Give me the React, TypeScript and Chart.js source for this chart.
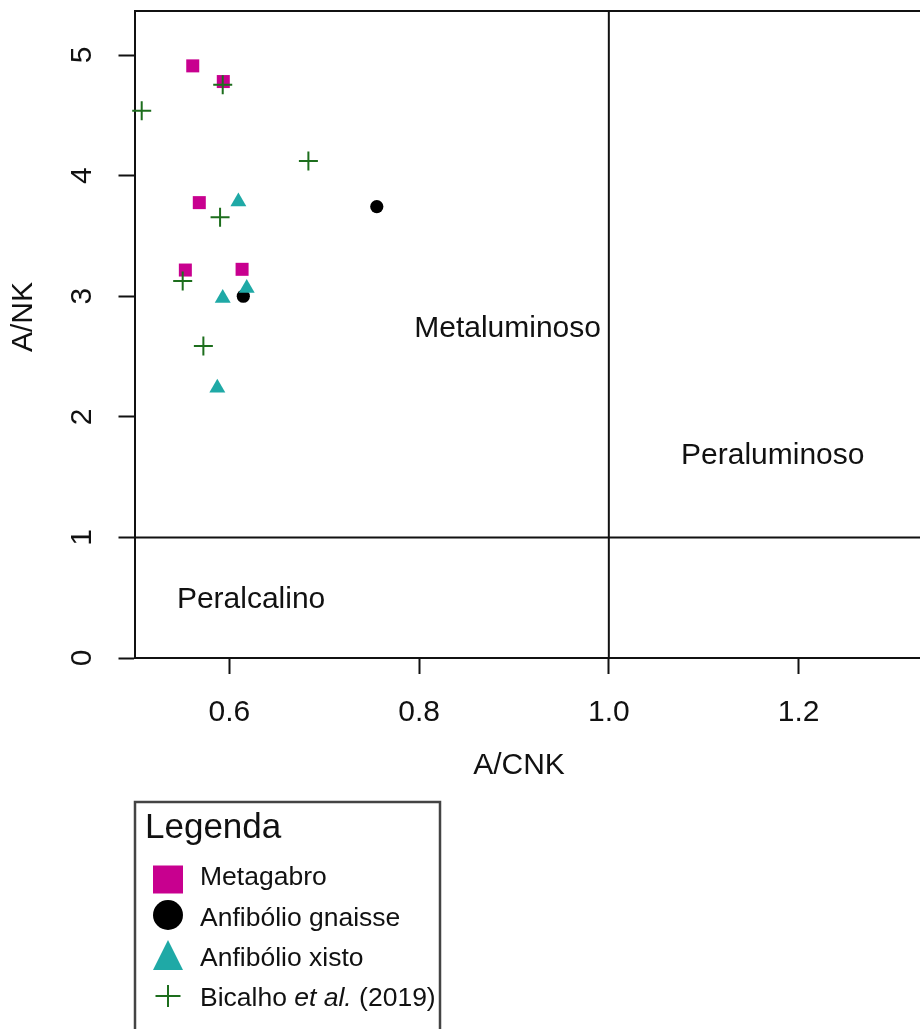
import { useEffect, useRef } from 'react';
import { Chart, registerables } from 'chart.js';

Chart.register(...registerables);

const FONT = '"Liberation Sans", Arial, Helvetica, sans-serif';
const INK = '#111111';

// Axis limits and ticks (Shand diagram: A/CNK vs A/NK)
const X_MIN = 0.5;
const X_MAX = 1.328;
const Y_MIN = 0;
const Y_MAX = 5.365;
const X_TICKS = [0.6, 0.8, 1.0, 1.2];
const Y_TICKS = [0, 1, 2, 3, 4, 5];

// Field boundaries
const BOUNDARY_ACNK = 1.0;
const BOUNDARY_ANK = 1.0;

// Samples
const metagabroACNK = [0.5614, 0.5936, 0.5683, 0.5536, 0.6134];
const metagabroANK = [4.91, 4.78, 3.776, 3.217, 3.223];

const gnaisseACNK = [0.7554, 0.6147];
const gnaisseANK = [3.743, 3.0];

const xistoACNK = [0.6095, 0.593, 0.6183, 0.5873];
const xistoANK = [3.784, 2.983, 3.066, 2.24];

const bicalhoACNK = [0.593, 0.5076, 0.6833, 0.5902, 0.5508, 0.5726];
const bicalhoANK = [4.753, 4.537, 4.122, 3.655, 3.126, 2.587];

// Field names and where they sit (in data units)
const fieldNames = ['Metaluminoso', 'Peraluminoso', 'Peralcalino'];
const fieldACNK = [0.8933, 1.1728, 0.6229];
const fieldANK = [2.727, 1.68, 0.48];

const X_TITLE = 'A/CNK';
const Y_TITLE = 'A/NK';
const LEGEND_TITLE = 'Legenda';
const seriesLabels = ['Metagabro', 'Anfibólio gnaisse', 'Anfibólio xisto', 'Bicalho et al. (2019)'];

const MAGENTA = '#c8008f';
const BLACK = '#000000';
const TEAL = '#1fa9a6';
const GREEN = '#1d6e1d';

const pts = (xs: number[], ys: number[]) => xs.map((x, i) => ({ x, y: ys[i] }));

const noPadding = (s: any) => {
  s.paddingTop = 0;
  s.paddingBottom = 0;
  s.paddingLeft = 0;
  s.paddingRight = 0;
};

const textPlugin = {
  id: 'shandText',
  afterDraw(chart: any) {
    const { ctx, scales } = chart;
    const xs = scales.x;
    const ys = scales.y;
    ctx.save();
    ctx.fillStyle = INK;

    // field names
    ctx.font = `30px ${FONT}`;
    ctx.textAlign = 'center';
    ctx.textBaseline = 'middle';
    fieldNames.forEach((name, i) => {
      ctx.fillText(name, xs.getPixelForValue(fieldACNK[i]), ys.getPixelForValue(fieldANK[i]));
    });

    // axis titles
    ctx.fillText(X_TITLE, 519, 766);
    ctx.save();
    ctx.translate(24, 317);
    ctx.rotate(-Math.PI / 2);
    ctx.fillText(Y_TITLE, 0, 0);
    ctx.restore();

    // legend box
    ctx.strokeStyle = '#444';
    ctx.lineWidth = 2.5;
    ctx.strokeRect(135, 802, 305, 260);

    ctx.textAlign = 'left';
    ctx.textBaseline = 'alphabetic';
    ctx.font = `35px ${FONT}`;
    ctx.fillText(LEGEND_TITLE, 145, 838);

    const mx = 168;
    const tx = 200;
    const baselines = [885, 926, 966, 1006];
    const centers = [879.5, 915, 956, 996];

    // square
    ctx.fillStyle = MAGENTA;
    ctx.fillRect(mx - 15, centers[0] - 14, 30, 28);
    // circle
    ctx.fillStyle = BLACK;
    ctx.beginPath();
    ctx.arc(mx, centers[1], 15, 0, Math.PI * 2);
    ctx.fill();
    // triangle
    ctx.fillStyle = TEAL;
    ctx.beginPath();
    ctx.moveTo(mx, centers[2] - 16);
    ctx.lineTo(mx + 15, centers[2] + 14);
    ctx.lineTo(mx - 15, centers[2] + 14);
    ctx.closePath();
    ctx.fill();
    // cross
    ctx.strokeStyle = GREEN;
    ctx.lineWidth = 2;
    ctx.beginPath();
    ctx.moveTo(mx - 12.5, centers[3]);
    ctx.lineTo(mx + 12.5, centers[3]);
    ctx.moveTo(mx, centers[3] - 11);
    ctx.lineTo(mx, centers[3] + 11);
    ctx.stroke();

    ctx.fillStyle = INK;
    const itemFont = `26.5px ${FONT}`;
    ctx.font = itemFont;
    for (let i = 0; i < 3; i++) ctx.fillText(seriesLabels[i], tx, baselines[i]);

    // "Bicalho et al. (2019)" with the Latin abbreviation in italics
    const full = seriesLabels[3];
    const a = full.indexOf('et al.');
    const before = full.slice(0, a);
    const ital = 'et al.';
    const after = full.slice(a + ital.length);
    let cx = tx;
    ctx.font = itemFont;
    ctx.fillText(before, cx, baselines[3]);
    cx += ctx.measureText(before).width;
    ctx.font = `italic 26.5px ${FONT}`;
    ctx.fillText(ital, cx, baselines[3]);
    cx += ctx.measureText(ital).width;
    ctx.font = itemFont;
    ctx.fillText(after, cx, baselines[3]);

    ctx.restore();
  },
};

export default function App() {
  const ref = useRef<HTMLCanvasElement>(null);

  useEffect(() => {
    document.body.style.margin = '0';
    const canvas = ref.current;
    if (!canvas) return;

    const chart = new Chart(canvas, {
      type: 'scatter',
      data: {
        datasets: [
          {
            label: 'A/CNK = 1',
            data: [
              { x: BOUNDARY_ACNK, y: Y_MIN },
              { x: BOUNDARY_ACNK, y: Y_MAX },
            ],
            showLine: true,
            borderColor: INK,
            borderWidth: 2,
            pointRadius: 0,
            order: 10,
          },
          {
            label: 'A/NK = 1',
            data: [
              { x: X_MIN, y: BOUNDARY_ANK },
              { x: X_MAX, y: BOUNDARY_ANK },
            ],
            showLine: true,
            borderColor: INK,
            borderWidth: 2,
            pointRadius: 0,
            order: 10,
          },
          {
            label: seriesLabels[0],
            data: pts(metagabroACNK, metagabroANK),
            pointStyle: 'rect',
            pointRadius: 9.2,
            backgroundColor: MAGENTA,
            borderWidth: 0,
            order: 4,
            clip: false,
          },
          {
            label: seriesLabels[1],
            data: pts(gnaisseACNK, gnaisseANK),
            pointStyle: 'circle',
            pointRadius: 6.6,
            backgroundColor: BLACK,
            borderWidth: 0,
            order: 3,
            clip: false,
          },
          {
            label: seriesLabels[2],
            data: pts(xistoACNK, xistoANK),
            pointStyle: 'triangle',
            pointRadius: 9.2,
            backgroundColor: TEAL,
            borderWidth: 0,
            order: 2,
            clip: false,
          },
          {
            label: seriesLabels[3],
            data: pts(bicalhoACNK, bicalhoANK),
            pointStyle: 'cross',
            pointRadius: 9.5,
            borderColor: GREEN,
            borderWidth: 2,
            order: 1,
            clip: false,
          },
        ],
      },
      options: {
        responsive: false,
        animation: false,
        devicePixelRatio: 1,
        events: [],
        layout: { autoPadding: false, padding: { top: 11, left: 0, right: 0, bottom: 0 } },
        plugins: {
          legend: { display: false },
          tooltip: { enabled: false },
        },
        scales: {
          x: {
            type: 'linear',
            position: 'bottom',
            min: X_MIN,
            max: X_MAX,
            afterBuildTicks: (s: any) => {
              s.ticks = X_TICKS.map((v) => ({ value: v }));
            },
            afterFit: (s: any) => {
              s.height = 371;
              noPadding(s);
            },
            grid: {
              drawOnChartArea: false,
              drawTicks: true,
              tickLength: 16,
              tickColor: INK,
              tickWidth: 2,
            },
            border: { display: true, color: INK, width: 2 },
            ticks: {
              color: INK,
              font: { family: FONT, size: 30 },
              padding: 21,
              maxRotation: 0,
              minRotation: 0,
              autoSkip: false,
              callback: (v: any) => Number(v).toFixed(1),
            },
          },
          xTop: {
            type: 'linear',
            position: 'top',
            min: X_MIN,
            max: X_MAX,
            afterFit: (s: any) => {
              s.height = 0;
              noPadding(s);
            },
            grid: { display: false },
            border: { display: true, color: INK, width: 2 },
            ticks: { display: false },
          },
          y: {
            type: 'linear',
            position: 'left',
            min: Y_MIN,
            max: Y_MAX,
            afterBuildTicks: (s: any) => {
              s.ticks = Y_TICKS.map((v) => ({ value: v }));
            },
            afterFit: (s: any) => {
              s.width = 134.5;
              noPadding(s);
            },
            grid: {
              drawOnChartArea: false,
              drawTicks: true,
              tickLength: 16,
              tickColor: INK,
              tickWidth: 2,
            },
            border: { display: true, color: INK, width: 2 },
            ticks: {
              color: INK,
              font: { family: FONT, size: 30 },
              padding: 27,
              minRotation: 90,
              maxRotation: 90,
              crossAlign: 'center',
              autoSkip: false,
              callback: (v: any) => String(v),
            },
          },
        },
      },
      plugins: [textPlugin],
    } as any);

    return () => chart.destroy();
  }, []);

  return (
    <canvas
      ref={ref}
      width={920}
      height={1029}
      style={{ display: 'block', width: 920, height: 1029 }}
    />
  );
}
